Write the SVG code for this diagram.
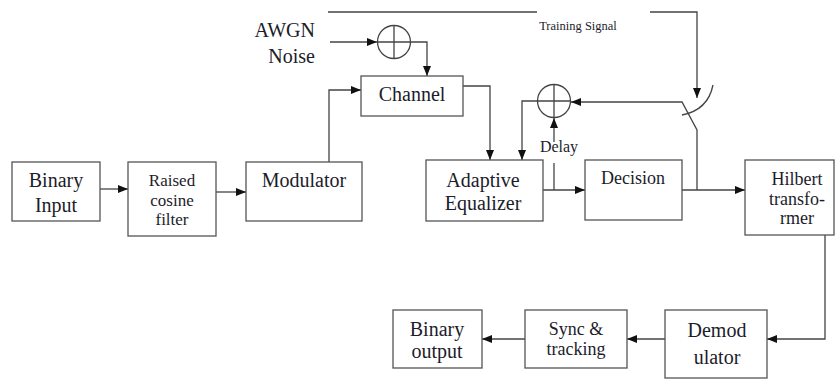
<svg xmlns="http://www.w3.org/2000/svg" width="835" height="379" viewBox="0 0 835 379">
<style>
.box{fill:#fff;stroke:#555;stroke-width:1.3}
.ln{fill:none;stroke:#444;stroke-width:1.3}
.t{font-family:"Liberation Serif","DejaVu Serif","Times New Roman",serif;font-size:20px;fill:#1c1c2a;text-anchor:middle}
.s{font-size:18px}
.r{font-size:17px}
</style>
<defs>
<marker id="ah" markerWidth="10" markerHeight="8" refX="10" refY="4" orient="auto" markerUnits="userSpaceOnUse">
<path d="M0,0 L10,4 L0,8 Z" fill="#111"/>
</marker>
</defs>
<rect width="835" height="379" fill="#fff"/>
<g id="connectors">
<path class="ln" d="M328,12 H537 M650,12 H697 V98" marker-end="url(#ah)"/>
<path class="ln" d="M330,42 H377" marker-end="url(#ah)"/>
<path class="ln" d="M411,42 H427 V76" marker-end="url(#ah)"/>
<path class="ln" d="M329,163 V90 H361" marker-end="url(#ah)"/>
<path class="ln" d="M463,86 H490 V160" marker-end="url(#ah)"/>
<path class="ln" d="M537,101 H522 V160" marker-end="url(#ah)"/>
<path class="ln" d="M554,163 V190"/>
<path class="ln" d="M554,142 V118" marker-end="url(#ah)"/>
<path class="ln" d="M543,190 H585" marker-end="url(#ah)"/>
<path class="ln" d="M682,190 H745" marker-end="url(#ah)"/>
<path class="ln" d="M697,190 V130 L682,102 H571" marker-end="url(#ah)"/>
<path class="ln" d="M713,85 Q708,110 682,115"/>
<path class="ln" d="M100,189 H128" marker-end="url(#ah)"/>
<path class="ln" d="M216,192 H246" marker-end="url(#ah)"/>
<path class="ln" d="M825,235 V339 H767" marker-end="url(#ah)"/>
<path class="ln" d="M665,339 H627" marker-end="url(#ah)"/>
<path class="ln" d="M525,339 H482" marker-end="url(#ah)"/>
</g>
<g id="training-label"><text class="t" x="578" y="30" style="font-size:12.5px">Training Signal</text></g>
<g id="awgn"><text class="t" x="315" y="37" style="text-anchor:end">AWGN</text><text class="t" x="315" y="63" style="text-anchor:end">Noise</text></g>
<g id="sum1"><circle cx="394" cy="42" r="16.5" fill="none" stroke="#444" stroke-width="1.3"/><path class="ln" d="M377.5,42 H410.5 M394,25.5 V58.5"/></g>
<g id="sum2"><circle cx="554" cy="101" r="16.5" fill="none" stroke="#444" stroke-width="1.3"/><path class="ln" d="M537.5,101 H570.5 M554,84.5 V117.5"/></g>
<g id="channel"><rect class="box" x="361" y="76" width="102" height="40"/><text class="t" x="412" y="101">Channel</text></g>
<g id="binary-input"><rect class="box" x="12" y="162" width="88" height="59"/><text class="t" x="56" y="187">Binary</text><text class="t" x="56" y="212">Input</text></g>
<g id="raised-cosine"><rect class="box" x="128" y="162" width="88" height="74"/><text class="t r" x="172" y="186">Raised</text><text class="t r" x="172" y="206">cosine</text><text class="t r" x="172" y="225">filter</text></g>
<g id="modulator"><rect class="box" x="246" y="162" width="116" height="59"/><text class="t" x="304" y="187">Modulator</text></g>
<g id="adaptive-equalizer"><rect class="box" x="426" y="160" width="117" height="61"/><text class="t" x="483" y="187">Adaptive</text><text class="t" x="483" y="210">Equalizer</text></g>
<g id="delay"><text class="t" x="559" y="152" style="font-size:16px">Delay</text></g>
<g id="decision"><rect class="box" x="585" y="160" width="97" height="60"/><text class="t s" x="633" y="184">Decision</text></g>
<g id="hilbert"><rect class="box" x="745" y="160" width="89" height="75"/><text class="t s" x="797" y="185">Hilbert</text><text class="t s" x="797" y="205">transfo-</text><text class="t s" x="797" y="224">rmer</text></g>
<g id="binary-output"><rect class="box" x="393" y="310" width="89" height="58"/><text class="t" x="437" y="336">Binary</text><text class="t" x="437" y="358">output</text></g>
<g id="sync-tracking"><rect class="box" x="525" y="310" width="102" height="58"/><text class="t s" x="576" y="335">Sync &amp;</text><text class="t s" x="576" y="355">tracking</text></g>
<g id="demodulator"><rect class="box" x="665" y="310" width="102" height="68"/><text class="t" x="717" y="337">Demod</text><text class="t" x="717" y="364">ulator</text></g>
</svg>
